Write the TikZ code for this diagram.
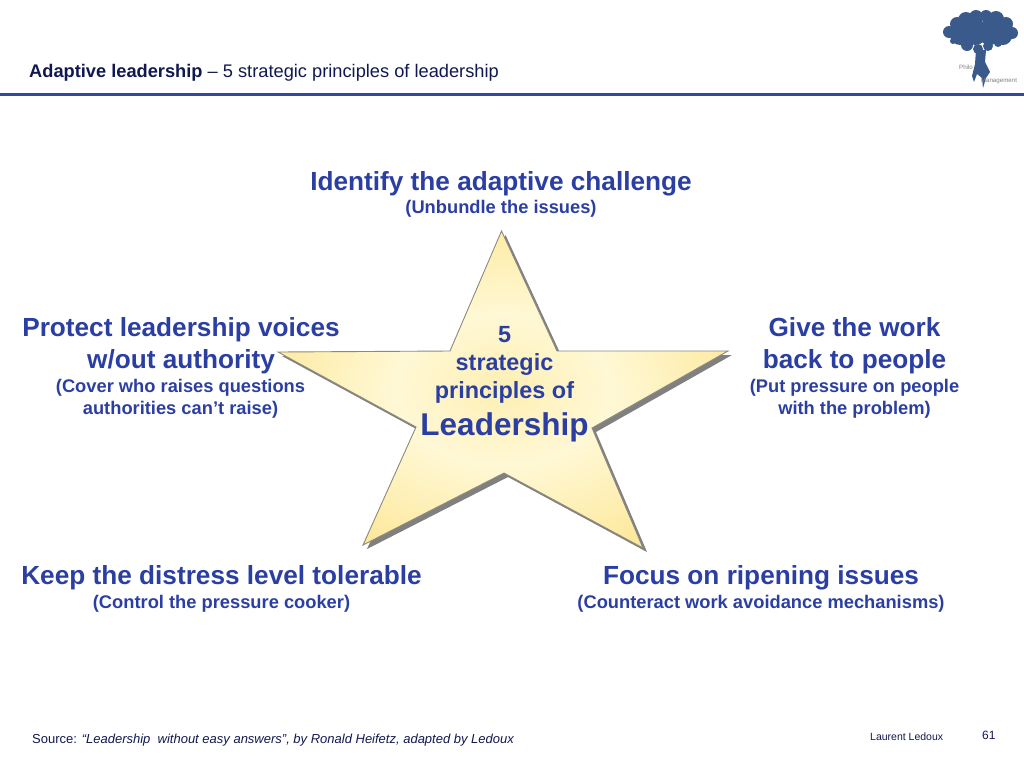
\documentclass[tikz,border=0pt]{standalone}
\usepackage{fontspec}
\setmainfont{Liberation Sans}
\definecolor{headblue}{HTML}{2B3FA3}
\definecolor{ruleblue}{HTML}{2F4A9F}
\definecolor{darkink}{HTML}{10184F}
\definecolor{treeblue}{HTML}{3A5A8C}
\definecolor{staredge}{HTML}{8C8A7C}
\definecolor{glowcore}{HTML}{FDEFB4}
\definecolor{glowring}{HTML}{FFF8D5}
\definecolor{glowrim}{HTML}{FDE694}
\pgfdeclareradialshading{starglow}{\pgfpointorigin}{color(0bp)=(glowcore); color(12bp)=(glowring); color(30bp)=(glowrim); color(70bp)=(glowrim)}
\newcommand{\starpath}{(501.5,231) -- (557,351) -- (728,351) -- (592,428) -- (643,548) -- (504,473) -- (363,545) -- (416,427) -- (278,352) -- (450,351) -- cycle}
\tikzset{
  bighead/.style={font=\bfseries\fontsize{26.2}{32}\selectfont, text=headblue, align=center, inner sep=0pt},
  subhead/.style={font=\bfseries\fontsize{18.3}{22}\selectfont, text=headblue, align=center, inner sep=0pt},
  smallnote/.style={font=\fontsize{11}{13}\selectfont, text=darkink, anchor=base west, inner sep=0pt},
  logotext/.style={inner sep=0pt, text=gray, font=\fontsize{6.2}{7}\selectfont},
}
\begin{document}
\begin{tikzpicture}[x=1pt, y=-1pt]
	\useasboundingbox (0,0) rectangle (1024,756);
	% header
	\node[anchor=base west, inner sep=0pt, text=darkink, font=\fontsize{18.25}{21}\selectfont] (title) at (29,77) {\textbf{Adaptive leadership} -- 5 strategic principles of leadership};
	\draw[color=ruleblue, line width=3pt] (0,94) -- (1024,94);
	% tree logo
	\foreach \cx/\cy/\cr in {949/32/6, 957/24/7, 966/20/8, 976/17/7, 986/16/6, 996/19/8, 1006/24/7, 1012/33/6, 1003/36/9, 990/32/13, 975/32/13, 960/35/10, 967/45/6, 978/49/5, 988/46/5, 998/43/4, 953/41/3}
		\fill[treeblue] (\cx,\cy) circle (\cr);
	\fill[treeblue] (976,50) -- (986,50) -- (985,62) -- (990,72) -- (986,78) -- (983,88) -- (982,78) -- (977,74) -- (974,82) -- (972,76) -- (975,64) -- cycle;
	\node[logotext] (philo) at (966,67) {Philo};
	\node[logotext] (mgmt) at (999,81) {Management};
	% star
	\fill[color=gray, shift={(4,4)}] \starpath;
	\draw[draw=staredge, line width=.9pt, shading=starglow] \starpath;
	\node[inner sep=0pt, align=center, text=headblue, font=\bfseries\fontsize{23.4}{28}\selectfont] (center) at (504.5,384) {5\\strategic\\principles of\\[9pt]{\fontsize{31.5}{34}\selectfont Leadership}};
	% the five principles
	\node[bighead] (top) at (501,183.5) {Identify the adaptive challenge};
	\node[subhead] (topsub) at (501,209) {(Unbundle the issues)};
	\node[bighead] (left) at (181,346) {Protect leadership voices\\w/out authority};
	\node[subhead] (leftsub) at (180.5,398.5) {(Cover who raises questions\\authorities can’t raise)};
	\node[bighead] (right) at (854.5,346) {Give the work\\back to people};
	\node[subhead] (rightsub) at (854.5,398.5) {(Put pressure on people\\with the problem)};
	\node[bighead] (lowleft) at (221.5,578) {Keep the distress level tolerable};
	\node[subhead] (lowleftsub) at (221.5,603.5) {(Control the pressure cooker)};
	\node[bighead] (lowright) at (761,578) {Focus on ripening issues};
	\node[subhead] (lowrightsub) at (761,603.5) {(Counteract work avoidance mechanisms)};
	% footer
	\node[smallnote, font=\fontsize{13}{15}\selectfont] (source) at (32,743) {Source: \textit{“Leadership\ \ without easy answers”, by Ronald Heifetz, adapted by Ledoux}};
	\node[smallnote, font=\fontsize{10.5}{12}\selectfont] (author) at (870,740.5) {Laurent Ledoux};
	\node[smallnote, font=\fontsize{12}{14}\selectfont] (page) at (982,739.5) {61};
\end{tikzpicture}
\end{document}
